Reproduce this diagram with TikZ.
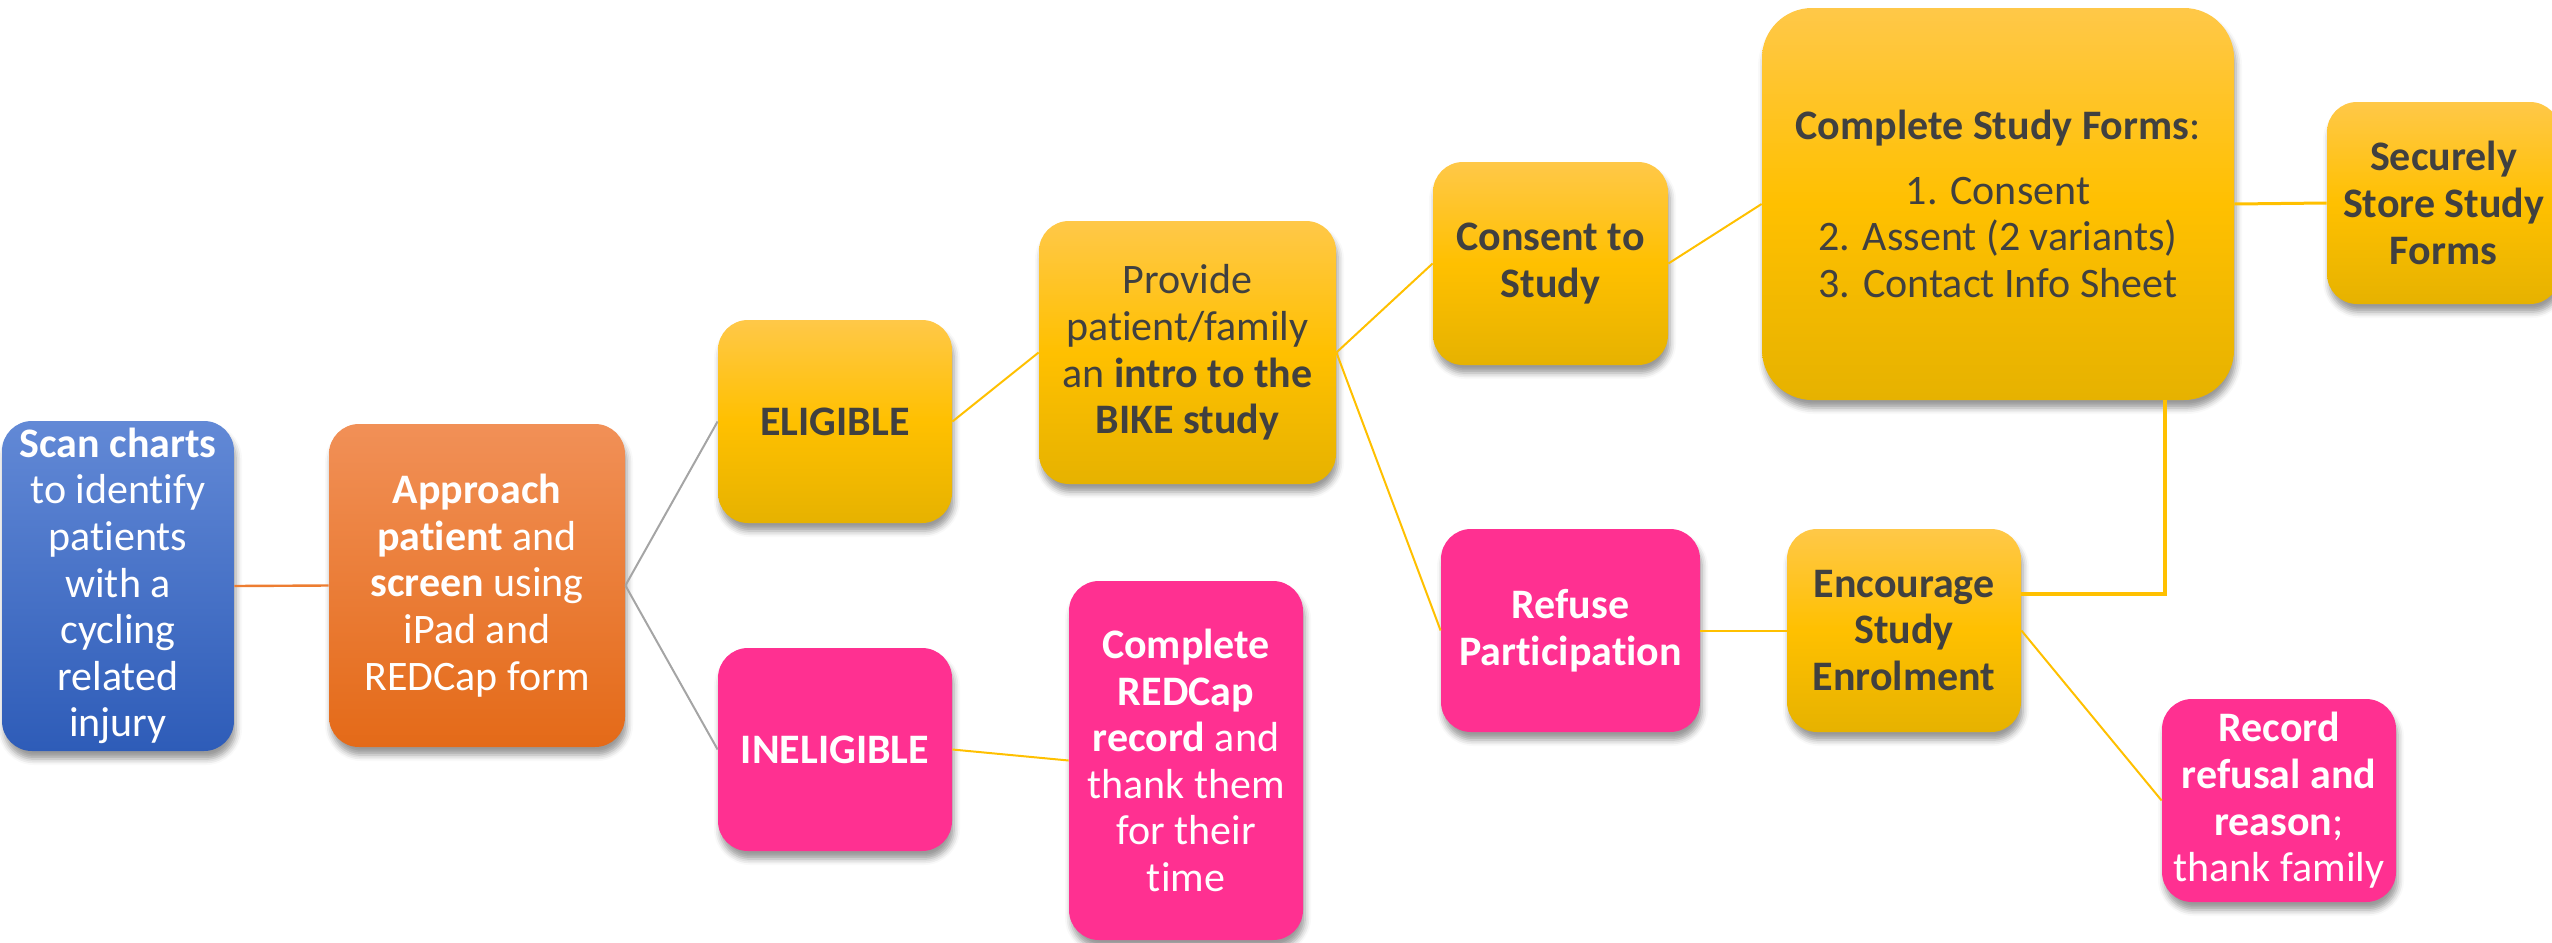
\documentclass[tikz,border=0pt]{standalone}
\usepackage{fontspec}
\setmainfont{Carlito}[RawFeature=-liga]
\usetikzlibrary{shadows.blur,calc}
\definecolor{blueT}{RGB}{98,137,214}
\definecolor{blueB}{RGB}{46,92,184}
\definecolor{oranT}{RGB}{241,144,87}
\definecolor{oranB}{RGB}{228,106,24}
\definecolor{goldT}{RGB}{255,200,72}
\definecolor{goldM}{RGB}{255,192,0}
\definecolor{goldB}{RGB}{230,178,0}
\definecolor{pinkF}{RGB}{255,48,145}
\definecolor{txtdark}{RGB}{64,64,64}
\definecolor{lineor}{RGB}{237,125,49}
\definecolor{linegray}{RGB}{165,165,165}
\definecolor{linegold}{RGB}{255,192,0}
\begin{document}
\begin{tikzpicture}[x=0.5pt,y=-0.5pt,
  card/.style={rounded corners=15pt, inner sep=0pt, align=center,
    font=\fontsize{21}{23.3}\selectfont,
    blur shadow={shadow xshift=1pt, shadow yshift=-4pt, shadow blur radius=3pt, shadow opacity=40}},
  bluecard/.style={card, top color=blueT, bottom color=blueB, text=white},
  orangecard/.style={card, top color=oranT, bottom color=oranB, text=white},
  goldcard/.style={card, top color=goldT, bottom color=goldB, middle color=goldM, text=txtdark},
  pinkcard/.style={card, fill=pinkF, text=white},
  wh/.style 2 args={minimum width=#1*0.5pt, minimum height=#2*0.5pt},
  orline/.style={draw=lineor, line width=1.2pt},
  grayline/.style={draw=linegray, line width=1pt},
  goldline/.style={draw=linegold, line width=1pt}
]
\useasboundingbox (0,0) rectangle (2552,942);

\node[bluecard, wh={232}{330}] (scan) at (118,586)
  {\textbf{Scan charts}\\ to identify\\ patients\\ with a\\ cycling\\ related\\ injury};
\node[orangecard, wh={296}{323}] (approach) at (477,585.5)
  {\textbf{Approach}\\ \textbf{patient} and\\ \textbf{screen} using\\ iPad and\\ REDCap form};
\node[goldcard, wh={234}{203}] (eligible) at (835,421.5) {\textbf{ELIGIBLE}};
\node[pinkcard, wh={234}{203}] (ineligible) at (835,749.5) {\textbf{INELIGIBLE}};
\node[goldcard, wh={297}{263}] (provide) at (1187.5,352.5)
  {Provide\\ patient/family\\ an \textbf{intro to the}\\ \textbf{BIKE study}};
\node[pinkcard, wh={234}{359}] (redcap) at (1186,760.5)
  {\textbf{Complete}\\ \textbf{REDCap}\\ \textbf{record} and\\ thank them\\ for their\\ time};
\node[goldcard, wh={235}{203}] (consent) at (1550.5,263.5) {\textbf{Consent to}\\ \textbf{Study}};
\node[goldcard, wh={472}{392}, rounded corners=25pt] (forms) at (1998,204)
  {\textbf{Complete Study Forms}:\\[9pt] 1. Consent\\ 2. Assent (2 variants)\\ 3. Contact Info Sheet};
\node[goldcard, wh={233}{202}] (secure) at (2443.5,203)
  {\textbf{Securely}\\ \textbf{Store Study}\\ \textbf{Forms}};
\node[pinkcard, wh={259}{203}] (refuse) at (1570.5,630.5)
  {\textbf{Refuse}\\ \textbf{Participation}};
\node[goldcard, wh={234}{203}] (encourage) at (1904,630.5)
  {\textbf{Encourage}\\ \textbf{Study}\\ \textbf{Enrolment}};
\node[pinkcard, wh={234}{203}] (record) at (2279,800.5)
  {\textbf{Record}\\ \textbf{refusal and}\\ \textbf{reason};\\ thank family};

\coordinate (elbow) at (2165,594);

\draw[orline] (scan.east) -- (approach.west);
\draw[grayline] (approach.east) -- (eligible.west);
\draw[grayline] (approach.east) -- (ineligible.west);
\draw[goldline] (eligible.east) -- (provide.west);
\draw[goldline] (ineligible.east) -- (redcap.west);
\draw[goldline] (provide.east) -- (consent.west);
\draw[goldline] (provide.east) -- (refuse.west);
\draw[goldline] (consent.east) -- (forms.west);
\draw[goldline, line width=1.5pt] (forms.east) -- (secure.west);
\draw[goldline] (refuse.east) -- (encourage.west);
\draw[goldline] (encourage.east) -- (record.west);
\draw[goldline, line width=2pt] (encourage.east |- elbow) -- (elbow) -- (elbow |- forms.south);
\end{tikzpicture}
\end{document}
